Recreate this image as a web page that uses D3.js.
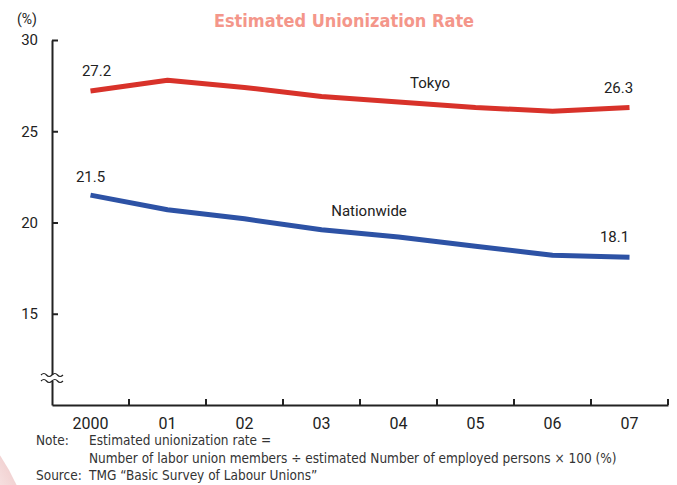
<!DOCTYPE html>
<html><head><meta charset="utf-8">
<script src="https://cdn.jsdelivr.net/npm/d3@7/dist/d3.min.js"></script>
<style>
body{margin:0;background:#fff;}
svg{display:block;}
text{font-family:Roboto,"Liberation Sans",Arial,sans-serif;fill:#222;}
</style></head>
<body>
<svg id="chart" width="677" height="485"></svg>
<script>
const years = ["2000","01","02","03","04","05","06","07"];
const tokyo = [27.2, 27.8, 27.4, 26.9, 26.6, 26.3, 26.1, 26.3];
const nationwide = [21.5, 20.7, 20.2, 19.6, 19.2, 18.7, 18.2, 18.1];
const yTicks = [15, 20, 25, 30];
const yDomain = [10, 30];
const title = "Estimated Unionization Rate";
const noteLines = ["Estimated unionization rate =", "Number of labor union members \u00f7 estimated Number of employed persons \u00d7 100 (%)"];
const sourceText = "TMG \u201cBasic Survey of Labour Unions\u201d";

const svg = d3.select("#chart");
const m = {left:52, right:668, top:40, bottom:405};

// decorative pink circle bottom-left
const defs = svg.append("defs");
const rg = defs.append("radialGradient").attr("id","pk").attr("cx","50%").attr("cy","50%").attr("r","50%");
rg.append("stop").attr("offset","82%").attr("stop-color","#fcf1f1");
rg.append("stop").attr("offset","100%").attr("stop-color","#f2d3d3");
svg.append("circle").attr("cx",-170).attr("cy",570).attr("r",205).attr("fill","url(#pk)");

const x = d3.scaleBand().domain(years).range([m.left, m.right]);
const y = d3.scaleLinear().domain(yDomain).range([m.bottom, m.top]);

// title
svg.append("text").attr("x",344).attr("y",27).attr("text-anchor","middle")
  .style("font-family","'Liberation Sans Narrow','DejaVu Sans Condensed',sans-serif")
  .style("font-weight","bold").style("font-size","18px").style("fill","#f4968a").text(title);

svg.append("text").attr("x",27).attr("y",24).attr("text-anchor","middle").style("font-size","14px").text("(%)");

// y axis
const yAxis = d3.axisLeft(y).tickValues(yTicks).tickSizeInner(-6).tickSizeOuter(0).tickPadding(14);
const gy = svg.append("g").attr("transform",`translate(${m.left},0)`).call(yAxis);
gy.select(".domain").attr("stroke","#222").attr("stroke-width",2);
gy.selectAll(".tick line").attr("stroke","#222").attr("stroke-width",2);
gy.selectAll(".tick text").style("font-size","15px").style("font-family","Roboto,sans-serif").attr("fill","#222");

// x axis
const xAxis = d3.axisBottom(x).tickSize(0).tickPadding(13);
const gx = svg.append("g").attr("transform",`translate(0,${m.bottom})`).call(xAxis);
gx.select(".domain").attr("stroke","#222").attr("stroke-width",2);
gx.selectAll(".tick text").style("font-size","16px").style("font-family","Roboto,sans-serif").attr("fill","#222");
// band boundary ticks (inward)
const bounds = years.slice(1).map(d => x(d)).concat([m.right]);
svg.append("g").selectAll("line").data(bounds).join("line")
  .attr("x1",d=>d).attr("x2",d=>d).attr("y1",m.bottom).attr("y2",m.bottom-6)
  .attr("stroke","#222").attr("stroke-width",2);

// axis break marker
const by = 378;
svg.append("rect").attr("x",m.left-4).attr("y",by-3).attr("width",8).attr("height",6).attr("fill","#fff");
const wave = (y0) => `M${m.left-11},${y0} q3,-3 5.5,0 t5.5,0 t5.5,0 t5.5,0`;
[by-3, by+3].forEach(v => svg.append("path").attr("d",wave(v)).attr("fill","none").attr("stroke","#222").attr("stroke-width",1.2));

// lines
const cx = d => x(d) + x.bandwidth()/2;
const line = d3.line().x((d,i)=>cx(years[i])).y(d=>y(d));
svg.append("path").datum(tokyo).attr("d",line).attr("fill","none").attr("stroke","#d8322a").attr("stroke-width",5).attr("stroke-linejoin","round");
svg.append("path").datum(nationwide).attr("d",line).attr("fill","none").attr("stroke","#2d52a5").attr("stroke-width",5).attr("stroke-linejoin","round");

// value labels
const lab = (txt, xx, yy, anchor) => svg.append("text").attr("x",xx).attr("y",yy).attr("text-anchor",anchor||"middle").style("font-size","15px").text(txt);
lab(tokyo[0].toFixed(1), cx(years[0])+6, y(tokyo[0])-15);
lab(nationwide[0].toFixed(1), cx(years[0]), y(nationwide[0])-13);
lab(tokyo[7].toFixed(1), cx(years[7])-11, y(tokyo[7])-15);
lab(nationwide[7].toFixed(1), cx(years[7])-15, y(nationwide[7])-15);
lab("Tokyo", 430, 88);
lab("Nationwide", 369, 216);

// notes
const nf = "'Liberation Sans Narrow','DejaVu Sans Condensed',sans-serif";
const nt = (txt, xx, yy) => svg.append("text").attr("x",xx).attr("y",yy).style("font-family",nf).style("font-size","13.5px").style("fill","#333").text(txt);
nt("Note:", 36, 445);
nt(noteLines[0], 89, 445);
nt(noteLines[1], 89, 463);
nt("Source:", 36, 480);
nt(sourceText, 89, 480);
</script>
</body></html>
